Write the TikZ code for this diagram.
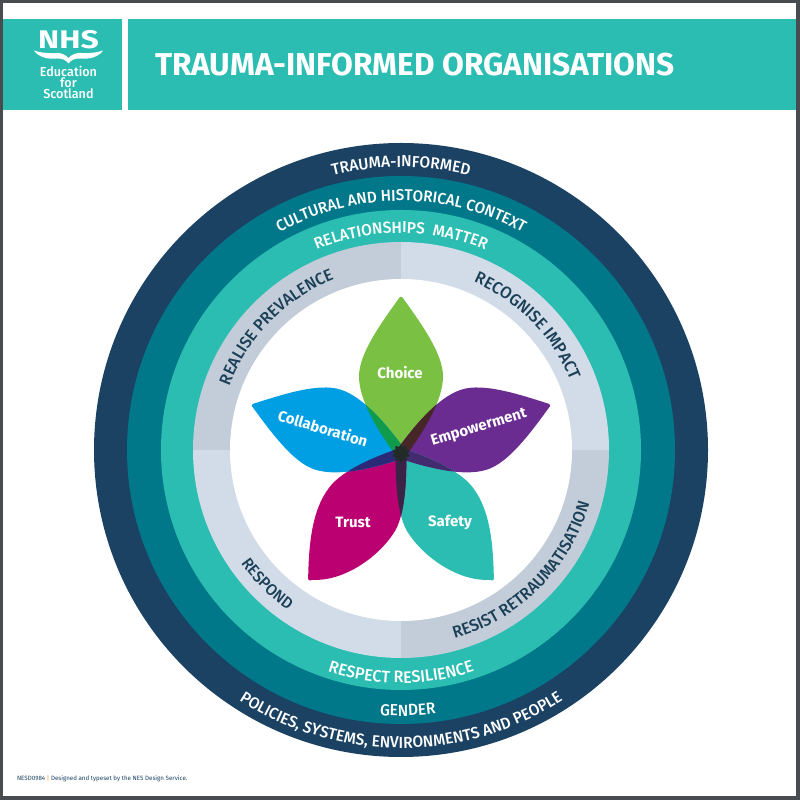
\documentclass[tikz,border=0pt]{standalone}
\usepackage{fontspec}
\setmainfont{Fira Sans}
\newfontfamily\fm[FakeStretch=0.97]{Fira Sans Medium}
\usetikzlibrary{decorations.text}
\definecolor{navy}{HTML}{1B4263}
\definecolor{inkC}{HTML}{1A3F57}
\definecolor{petrol}{HTML}{007889}
\definecolor{teal}{HTML}{2BBDB1}
\definecolor{grayA}{HTML}{C3CDD9}
\definecolor{grayB}{HTML}{D2DCE8}
\definecolor{frameC}{HTML}{484C50}
\definecolor{green}{HTML}{7AC143}
\definecolor{purple}{HTML}{6A2C91}
\definecolor{magenta}{HTML}{BB0071}
\definecolor{sky}{HTML}{009FE3}
\definecolor{ovA}{HTML}{0F9B4B}
\definecolor{ovB}{HTML}{472628}
\definecolor{ovC}{HTML}{432B6F}
\definecolor{ovD}{HTML}{3A2347}
\definecolor{ovE}{HTML}{2B2A78}
\definecolor{ovF}{HTML}{222B28}
\tikzset{
  petallabel/.style={text=white,font=\fontsize{15}{15}\selectfont\bfseries,inner sep=0pt},
  logotext/.style={text=white,font=\fm\fontsize{13}{13}\selectfont,inner sep=0pt},
  tEmp/.style={rotate=-72}, tSaf/.style={rotate=-144},
  tTru/.style={rotate=144,xscale=-1}, tCol/.style={rotate=72}, tCho/.style={},
}
% petals in local coordinates, tip upward, origin at the flower centre
\def\petal{(-2.5,154.5) .. controls (-1,157.3) and (1,157.3) .. (2.5,154.5)
  .. controls (20,130) and (42,100) .. (42,77)
  .. controls (42,50) and (18,15) .. (0,-9)
  .. controls (-18,15) and (-42,50) .. (-42,77)
  .. controls (-42,100) and (-20,130) .. (-2.5,154.5) -- cycle}
\def\petalS{(-2.5,154.5) .. controls (-1,157.3) and (1,157.3) .. (2.5,154.5)
  .. controls (28,138) and (42,100) .. (41,70)
  .. controls (41,48) and (18,15) .. (0,-9)
  .. controls (-18,15) and (-38,48) .. (-38,70)
  .. controls (-39,100) and (-18,132) .. (-2.5,154.5) -- cycle}
\newcommand{\overlap}[5]{\begin{scope}\clip[#2] #1; \fill[#5,#4] #3; \end{scope}}
\newcommand{\arctxt}[6]{% size, colour, radius, from, to, text
  \path[decorate,decoration={text along path,text align=center,text format delimiters={|}{|},
    text={|\fm\fontsize{#1}{#1}\selectfont\color{#2}|#6}}]
    (#4:#3) arc[start angle=#4,end angle=#5,radius=#3];}
\begin{document}
\begin{tikzpicture}[x=1pt,y=1pt,line width=0pt]
\useasboundingbox (0,0) rectangle (800,800);
\fill[frameC] (0,0) rectangle (800,800);
\fill[white] (3,4) rectangle (796,797);
% header
\fill[teal] (3,690) rectangle (122,781);
\fill[teal] (128,690) rectangle (796,781);
\node[text=white,font=\fontsize{31.6}{31.6}\selectfont\bfseries,anchor=west,inner sep=0pt] (title) at (155,735.5) {TRAUMA-INFORMED ORGANISATIONS};
\node[text=white,font=\fontsize{25.5}{25.5}\selectfont\bfseries,inner sep=0pt,xscale=1.25] (nhs) at (68.5,760) {NHS};
\fill[white] (34,749.5) .. controls (38,743) and (48,740.5) .. (56,741.5) .. controls (62,742) and (66,740) .. (68.5,736.5)
  .. controls (71,740) and (75,742) .. (81,741.5) .. controls (89,740.5) and (99,743) .. (103,749.5)
  .. controls (98,747.5) and (89,746.5) .. (82,747) .. controls (77,747.5) and (72,746) .. (68.5,742)
  .. controls (65,746) and (60,747.5) .. (55,747) .. controls (48,746.5) and (39,747.5) .. (34,749.5) -- cycle;
\node[logotext] (l1) at (68.5,729) {Education};
\node[logotext] (l2) at (68.5,717) {for};
\node[logotext] (l3) at (68.5,706) {Scotland};
% rings
\begin{scope}[shift={(401,350)}]
\fill[navy] (0,0) circle (307);
\fill[petrol] (0,0) circle (274);
\fill[teal] (0,0) circle (240);
\fill[grayA] (0,0) -- (180:208) arc[start angle=180,end angle=90,radius=208] -- cycle;
\fill[grayB] (0,0) -- (90:208) arc[start angle=90,end angle=0,radius=208] -- cycle;
\fill[grayA] (0,0) -- (0:208) arc[start angle=0,end angle=-90,radius=208] -- cycle;
\fill[grayB] (0,0) -- (-90:208) arc[start angle=-90,end angle=-180,radius=208] -- cycle;
\fill[white] (0,0) circle (171);
% ring texts
\arctxt{16}{white}{283}{130}{50}{TRAUMA-INFORMED}
\arctxt{15.7}{white}{249}{150}{30}{CULTURAL AND HISTORICAL CONTEXT}
\arctxt{16}{white}{217}{140}{40}{RELATIONSHIPS{\ } MATTER}
\arctxt{16.6}{inkC}{183}{175}{96}{REALISE PREVALENCE}
\arctxt{16.8}{inkC}{183}{84}{5}{RECOGNISE IMPACT}
\arctxt{16.6}{inkC}{196}{-100}{10}{RESIST RETRAUMATISATION}
\arctxt{16}{inkC}{196}{190}{260}{RESPOND}
\arctxt{16.6}{white}{233}{230}{310}{RESPECT RESILIENCE}
\arctxt{16}{white}{266}{240}{303}{GENDER}
\arctxt{16}{white}{298}{200}{340}{POLICIES, SYSTEMS, ENVIRONMENTS AND PEOPLE}
\end{scope}
% flower
\begin{scope}[shift={(401,346.6)}]
\fill[green,tCho] \petal;
\fill[purple,tEmp] \petal;
\fill[teal,tSaf] \petalS;
\fill[magenta,tTru] \petalS;
\fill[sky,tCol] \petal;
\overlap{\petal}{tCho}{\petal}{tCol}{ovA}
\overlap{\petal}{tCho}{\petal}{tEmp}{ovB}
\overlap{\petal}{tEmp}{\petalS}{tSaf}{ovC}
\overlap{\petalS}{tSaf}{\petalS}{tTru}{ovD}
\overlap{\petalS}{tTru}{\petal}{tCol}{ovE}
\overlap{\petal}{tCho}{\petalS}{tSaf}{ovF}
\overlap{\petal}{tCho}{\petalS}{tTru}{ovF}
\overlap{\petal}{tEmp}{\petalS}{tTru}{ovF}
\overlap{\petal}{tEmp}{\petal}{tCol}{ovF}
\overlap{\petalS}{tSaf}{\petal}{tCol}{ovF}
\end{scope}
\node[petallabel] (choice) at (400,427) {Choice};
\node[petallabel,rotate=-17] (collab) at (323,372) {Collaboration};
\node[petallabel,rotate=17] (empower) at (479,372) {Empowerment};
\node[petallabel] (trust) at (353,278) {Trust};
\node[petallabel] (safety) at (450,278) {Safety};
\node[anchor=west,inner sep=0pt,text=navy,font=\fontsize{6.2}{6.2}\selectfont] (foot) at (17,21) {NESD0984 {\color{orange}|} Designed and typeset by the NES Design Service.};
\end{tikzpicture}
\end{document}
